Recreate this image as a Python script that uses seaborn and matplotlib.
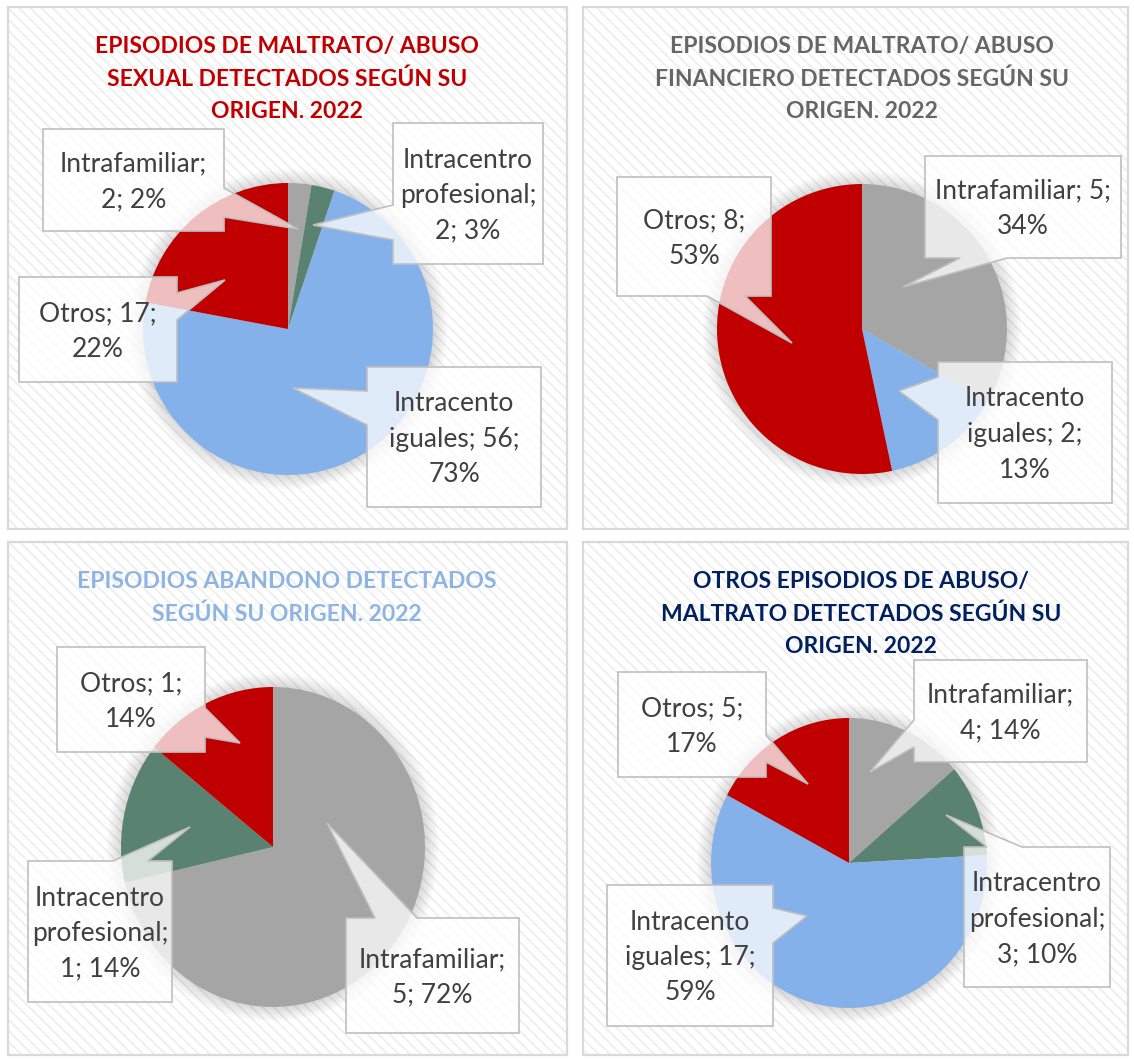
import textwrap
import matplotlib.pyplot as plt
import seaborn as sns
from matplotlib.patches import Rectangle, Polygon, Ellipse

sns.set_style("white")
plt.rcParams['font.family'] = ['Lato', 'DejaVu Sans']
plt.rcParams['hatch.linewidth'] = 1.4

W, H = 1134, 1059

# ---------------- datos ----------------
categorias = ["Intrafamiliar", "Intracentro profesional", "Intracento iguales", "Otros"]
paleta = sns.color_palette(["#A5A5A5", "#5A8270", "#85B1EA", "#C00000"])

sexual_n = [2, 2, 56, 17]
sexual_pct = ["2%", "3%", "73%", "22%"]
financiero_n = [5, 0, 2, 8]
financiero_pct = ["34%", "0%", "13%", "53%"]
abandono_n = [5, 1, 0, 1]
abandono_pct = ["72%", "14%", "0%", "14%"]
otros_n = [4, 3, 17, 5]
otros_pct = ["14%", "10%", "59%", "17%"]

titulos = [
    "EPISODIOS DE MALTRATO/ ABUSO\nSEXUAL DETECTADOS SEGÚN SU\nORIGEN. 2022",
    "EPISODIOS DE MALTRATO/ ABUSO\nFINANCIERO DETECTADOS SEGÚN SU\nORIGEN. 2022",
    "EPISODIOS ABANDONO DETECTADOS\nSEGÚN SU ORIGEN. 2022",
    "OTROS EPISODIOS DE ABUSO/\nMALTRATO DETECTADOS SEGÚN SU\nORIGEN. 2022",
]
colores_titulo = ["#C00000", "#666666", "#8DB4E2", "#002060"]

series = [(sexual_n, sexual_pct), (financiero_n, financiero_pct),
          (abandono_n, abandono_pct), (otros_n, otros_pct)]

# ---------------- maquetación (píxeles, origen arriba-izquierda) ----------------
paneles = [(8, 7, 567, 529), (583, 7, 1128, 529), (8, 542, 567, 1055), (583, 542, 1128, 1055)]
pies = [(288, 329, 145, 146), (862, 329, 145, 145), (273, 847, 152, 160), (849, 863, 138, 145)]
titulo_xy = [(287, 45), (862, 45), (287, 580), (861, 580)]

# (categoría, caja, lado del puntero, tramo, punta, ancho de ajuste)
callouts = [
    [(0, (43, 129, 224, 231), 'r', (188, 217), (298, 229), 14),
     (1, (393, 123, 543, 264), 'l', (205, 240), (313, 225), 12),
     (2, (367, 367, 541, 507), 'l', (391, 425), (293, 388), 12),
     (3, (19, 277, 177, 382), 'r', (293, 320), (225, 280), 10)],
    [(0, (925, 156, 1121, 258), 'b', (960, 1007), (903, 287), 17),
     (2, (938, 362, 1112, 503), 'l', (377, 420), (899, 391), 12),
     (3, (617, 177, 771, 296), 'b', (707, 745), (792, 343), 10)],
    [(0, (346, 918, 519, 1033), 't', (375, 417), (327, 823), 14),
     (1, (28, 861, 172, 1002), 't', (113, 148), (190, 827), 12),
     (3, (57, 647, 205, 752), 'r', (708, 737), (240, 743), 10)],
    [(0, (914, 660, 1087, 762), 'l', (720, 747), (870, 772), 14),
     (1, (964, 847, 1110, 987), 't', (987, 1022), (946, 815), 12),
     (2, (607, 885, 773, 1026), 'r', (908, 943), (807, 916), 12),
     (3, (618, 672, 766, 777), 'r', (735, 762), (808, 784), 10)],
]

LABEL_PT = 19
TITLE_PT = 16.5


def fy(y):
    return H - y


def lineas(ax, x, y0, texto, paso, size, **kw):
    # cada línea por separado, y0 = centro de la primera línea (px desde arriba)
    px = size * 100 / 72
    for i, linea in enumerate(texto.split("\n")):
        yc = y0 + i * paso
        ax.text(x, fy(yc + 0.36 * px), linea, ha='center', va='baseline',
                fontsize=size, **kw)


def forma_callout(caja, lado, tramo, punta):
    x0, y0, x1, y1 = caja
    a, b = tramo
    tl, tr, br, bl = (x0, y0), (x1, y0), (x1, y1), (x0, y1)
    if lado == 't':
        pts = [tl, (a, y0), punta, (b, y0), tr, br, bl]
    elif lado == 'r':
        pts = [tl, tr, (x1, a), punta, (x1, b), br, bl]
    elif lado == 'b':
        pts = [tl, tr, br, (b, y1), punta, (a, y1), bl]
    else:
        pts = [tl, tr, br, bl, (x0, b), punta, (x0, a)]
    return [(x, fy(y)) for x, y in pts]


fig = plt.figure(figsize=(W / 100, H / 100), dpi=100, facecolor='white')

fondo = fig.add_axes([0, 0, 1, 1])
fondo.set_xlim(0, W)
fondo.set_ylim(0, H)
fondo.axis('off')

for k, (x0, y0, x1, y1) in enumerate(paneles):
    fondo.add_patch(Rectangle((x0, fy(y1)), x1 - x0, y1 - y0, facecolor='white',
                              edgecolor='#EFEFEF', hatch='\\\\\\', linewidth=0))
    fondo.add_patch(Rectangle((x0, fy(y1)), x1 - x0, y1 - y0, fill=False,
                              edgecolor='#D9D9D9', linewidth=1.6))
    tx, ty = titulo_xy[k]
    lineas(fondo, tx, ty, titulos[k], 32.5, TITLE_PT, color=colores_titulo[k],
           fontweight='bold')
    cx, cy, rx, ry = pies[k]
    for s in range(14, 0, -2):
        fondo.add_patch(Ellipse((cx, fy(cy)), 2 * (rx + s), 2 * (ry + s),
                                facecolor='black', edgecolor='none', alpha=0.018))

# tartas
for k, (valores, pct) in enumerate(series):
    cx, cy, rx, ry = pies[k]
    ax = fig.add_axes([(cx - rx) / W, (fy(cy) - ry) / H, 2 * rx / W, 2 * ry / H])
    ax.pie(valores, colors=paleta, startangle=90, counterclock=False, radius=1,
           wedgeprops=dict(linewidth=0.4, edgecolor='none'))
    ax.set_xlim(-1, 1)
    ax.set_ylim(-1, 1)
    ax.set_aspect('auto')
    ax.axis('off')

# etiquetas tipo globo
capa = fig.add_axes([0, 0, 1, 1])
capa.set_xlim(0, W)
capa.set_ylim(0, H)
capa.axis('off')

for k, (valores, pct) in enumerate(series):
    for idx, caja, lado, tramo, punta, ancho in callouts[k]:
        capa.add_patch(Polygon(forma_callout(caja, lado, tramo, punta), closed=True,
                               facecolor=(1, 1, 1, 0.75), edgecolor='#BFBFBF',
                               linewidth=1.2, joinstyle='miter'))
        texto = textwrap.fill(f"{categorias[idx]}; {valores[idx]}; {pct[idx]}", ancho)
        n = texto.count("\n") + 1
        x0, y0, x1, y1 = caja
        paso = 35.5
        primera = (y0 + y1) / 2 - (n - 1) * paso / 2
        lineas(capa, (x0 + x1) / 2, primera, texto, paso, LABEL_PT, color='#404040')

fig.savefig("out.png", dpi=100, facecolor='white')
